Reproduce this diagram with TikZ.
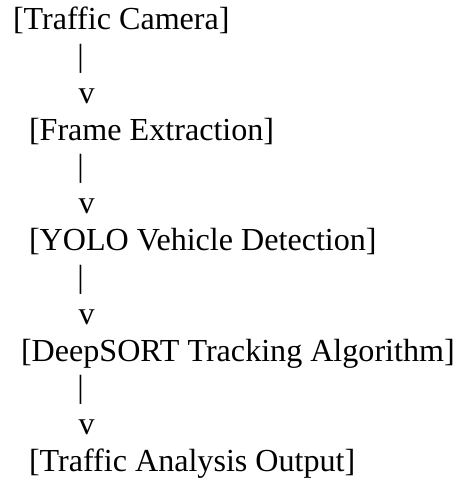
\documentclass[tikz,border=0pt]{standalone}
\usepackage{fontspec}
\setmainfont{Liberation Serif}
\begin{document}
\begin{tikzpicture}[x=1pt,y=-1pt,
  txt/.style={inner sep=0pt,outer sep=0pt,anchor=base west,font=\fontsize{32.1}{36.8}\selectfont},
  sym/.style={inner sep=0pt,outer sep=0pt,anchor=base,font=\fontsize{32.1}{36.8}\selectfont}]
\useasboundingbox (0,0) rectangle (459,479);
\node[txt] (cam) at (13,29) {[Traffic Camera]};
\node[sym] (b1) at (80.7,66) {|};
\node[sym] (v1) at (86.7,103) {v};
\node[txt] (frame) at (29,140) {[Frame Extraction]};
\node[sym] (b2) at (80.7,176.5) {|};
\node[sym] (v2) at (86.7,213) {v};
\node[txt] (yolo) at (29,250) {[YOLO Vehicle Detection]};
\node[sym] (b3) at (80.7,287) {|};
\node[sym] (v3) at (86.7,324) {v};
\node[txt] (deep) at (21,361) {[DeepSORT Tracking Algorithm]};
\node[sym] (b4) at (80.7,397) {|};
\node[sym] (v4) at (86.7,434) {v};
\node[txt] (out) at (29,471) {[Traffic Analysis Output]};
\end{tikzpicture}
\end{document}
